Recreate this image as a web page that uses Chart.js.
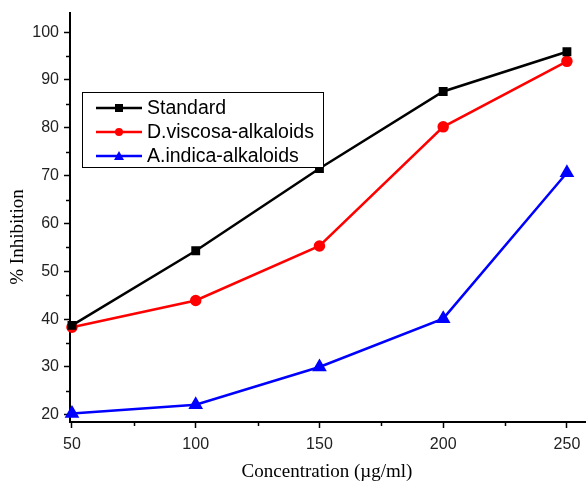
<!DOCTYPE html>
<html>
<head>
<meta charset="utf-8">
<script src="https://cdn.jsdelivr.net/npm/chart.js@4.4.0/dist/chart.umd.min.js"></script>
<style>
  html, body { margin: 0; padding: 0; background: #fff; }
  #wrap { width: 586px; height: 484px; }
</style>
</head>
<body>
<div id="wrap"><canvas id="chart"></canvas></div>
<script>
// values
var concentrations = [50, 100, 150, 200, 250];
var standard = [38.7, 54.3, 71.5, 87.6, 95.9];
var dViscosa = [38.3, 43.9, 55.3, 80.2, 93.9];
var aIndica = [20.3, 22.1, 30.0, 40.1, 70.6];
var yTicks = [20, 30, 40, 50, 60, 70, 80, 90, 100];
var xTicks = [50, 100, 150, 200, 250];
var yMinor = [25, 35, 45, 55, 65, 75, 85, 95];
var xMinor = [75, 125, 175, 225];

function pts(arr) {
  var out = [];
  for (var i = 0; i < concentrations.length; i++) {
    out.push({x: concentrations[i], y: arr[i]});
  }
  return out;
}

var seriesNames = ['Standard', 'D.viscosa-alkaloids', 'A.indica-alkaloids'];
var seriesColors = ['#000000', '#ff0000', '#0000ff'];
var seriesShapes = ['rect', 'circle', 'triangle'];

// extra drawing: minor ticks, legend box, axis titles
var extras = {
  id: 'extras',
  afterDraw: function(chart) {
    var ctx = chart.ctx;
    var xs = chart.scales.x, ys = chart.scales.y;
    var area = chart.chartArea;
    ctx.save();
    ctx.strokeStyle = '#000';
    ctx.lineWidth = 1.5;
    yMinor.forEach(function(v) {
      var y = Math.round(ys.getPixelForValue(v)) + 0.5;
      ctx.beginPath(); ctx.moveTo(area.left - 4, y); ctx.lineTo(area.left, y); ctx.stroke();
    });
    xMinor.forEach(function(v) {
      var x = Math.round(xs.getPixelForValue(v)) + 0.5;
      ctx.beginPath(); ctx.moveTo(x, area.bottom); ctx.lineTo(x, area.bottom + 4); ctx.stroke();
    });

    // legend
    ctx.fillStyle = '#fff';
    ctx.fillRect(82, 92, 242, 76);
    ctx.strokeStyle = '#000';
    ctx.lineWidth = 1;
    ctx.strokeRect(82.5, 92.5, 241, 75);
    ctx.font = '19.5px "Liberation Sans", Arial, sans-serif';
    ctx.textBaseline = 'middle';
    for (var i = 0; i < seriesNames.length; i++) {
      var y = 108 + i * 24;
      ctx.strokeStyle = seriesColors[i];
      ctx.fillStyle = seriesColors[i];
      ctx.lineWidth = 2.5;
      ctx.beginPath(); ctx.moveTo(96, y); ctx.lineTo(142, y); ctx.stroke();
      var cx = 119;
      ctx.beginPath();
      if (seriesShapes[i] === 'rect') {
        ctx.rect(cx - 4, y - 4, 8, 8);
      } else if (seriesShapes[i] === 'circle') {
        ctx.arc(cx, y, 4, 0, Math.PI * 2);
      } else {
        ctx.moveTo(cx, y - 5); ctx.lineTo(cx + 5, y + 4); ctx.lineTo(cx - 5, y + 4); ctx.closePath();
      }
      ctx.fill();
      ctx.fillStyle = '#000';
      ctx.fillText(seriesNames[i], 147, y + 1);
    }

    // axis titles
    ctx.fillStyle = '#000';
    ctx.font = '19px "Liberation Serif", "Times New Roman", serif';
    ctx.textAlign = 'center';
    ctx.textBaseline = 'middle';
    ctx.fillText('Concentration (\u00b5g/ml)', 327, 472);
    ctx.translate(18, 237);
    ctx.rotate(-Math.PI / 2);
    ctx.fillText('% Inhibition', 0, 0);
    ctx.restore();
  }
};

var datasets = [standard, dViscosa, aIndica].map(function(arr, i) {
  return {
    label: seriesNames[i],
    data: pts(arr),
    borderColor: seriesColors[i],
    backgroundColor: seriesColors[i],
    borderWidth: 2.5,
    pointStyle: seriesShapes[i],
    pointRadius: seriesShapes[i] === 'triangle' ? 6 : 4.5,
    pointHoverRadius: 5,
    tension: 0,
    clip: false
  };
});

new Chart(document.getElementById('chart'), {
  type: 'line',
  data: { datasets: datasets },
  options: {
    responsive: true,
    maintainAspectRatio: false,
    animation: false,
    layout: { autoPadding: false, padding: { top: 13, right: 1, left: 0, bottom: 0 } },
    plugins: { legend: { display: false }, tooltip: { enabled: false } },
    scales: {
      x: {
        type: 'linear',
        min: 49.2,
        max: 257.3,
        afterBuildTicks: function(s) { s.ticks = xTicks.map(function(v) { return {value: v}; }); },
        afterFit: function(s) { s.height = 62; s.paddingLeft = 0; s.paddingRight = 0; },
        border: { color: '#000', width: 2 },
        grid: { drawOnChartArea: false, tickLength: 6, tickColor: '#000', tickWidth: 1.5 },
        ticks: { color: '#222', padding: 7, maxRotation: 0, font: { family: '"Liberation Sans", Arial, sans-serif', size: 16 } }
      },
      y: {
        min: 18.5,
        max: 104,
        afterBuildTicks: function(s) { s.ticks = yTicks.map(function(v) { return {value: v}; }); },
        afterFit: function(s) { s.width = 70; s.paddingTop = 0; s.paddingBottom = 0; },
        border: { color: '#000', width: 2 },
        grid: { drawOnChartArea: false, tickLength: 6, tickColor: '#000', tickWidth: 1.5 },
        ticks: { color: '#222', padding: 5, font: { family: '"Liberation Sans", Arial, sans-serif', size: 16 } }
      }
    }
  },
  plugins: [extras]
});
</script>
</body>
</html>
